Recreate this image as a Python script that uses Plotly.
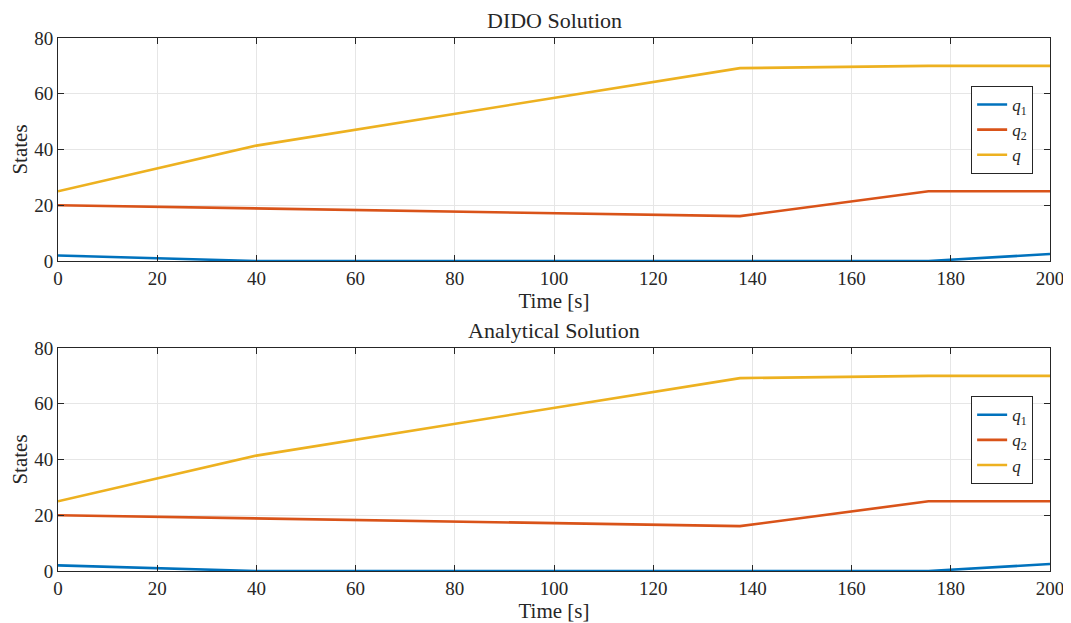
import plotly.graph_objects as go

time = [0, 40, 137.5, 175.5, 200]
q1 = [2.0, 0.0, 0.0, 0.0, 2.5]
q2 = [20.0, 18.9, 16.1, 25.0, 25.0]
q = [25.0, 41.4, 69.2, 70.0, 70.0]
x_ticks = list(range(0, 201, 20))
y_ticks = [0, 20, 40, 60, 80]
titles = ["DIDO Solution", "Analytical Solution"]

colors = ["#0072BD", "#D95319", "#EDB120"]
names = ["<i>q</i><sub>1</sub>", "<i>q</i><sub>2</sub>", "<i>q</i>"]
series = [q1, q2, q]
FONT = "Liberation Serif"

fig = go.Figure()
for p in range(2):
    for s, c, n in zip(series, colors, names):
        fig.add_trace(go.Scatter(
            x=time, y=s, mode="lines", name=n,
            line=dict(color=c, width=2.6),
            xaxis="x" if p == 0 else "x2", yaxis="y" if p == 0 else "y2",
            legend="legend" if p == 0 else "legend2",
        ))

ax_common = dict(showline=True, linecolor="#262626", linewidth=1, mirror="ticks",
                 ticks="inside", ticklen=6, tickcolor="#262626", automargin=False,
                 showgrid=True, gridcolor="#e6e6e6", gridwidth=1, zeroline=False,
                 tickfont=dict(family=FONT, size=19, color="#262626"))
axis_title_font = dict(family=FONT, size=21, color="#262626")
plot_title_font = dict(family=FONT, size=22, color="#262626")
legend_font = dict(family=FONT, size=17, color="#262626")

fig.update_layout(
    width=1063, height=615,
    margin=dict(l=50, r=21, t=30, b=52),
    paper_bgcolor="white", plot_bgcolor="white",
    font=dict(family=FONT, color="#262626"),
    xaxis=dict(domain=[0, 1], range=[0, 200], tickvals=x_ticks, anchor="y",
               title=dict(text="Time [s]", font=axis_title_font, standoff=3), **ax_common),
    yaxis=dict(domain=[0.5816, 1], range=[0, 80], tickvals=y_ticks, anchor="x",
               title=dict(text="States", font=axis_title_font, standoff=6), **ax_common),
    xaxis2=dict(domain=[0, 1], range=[0, 200], tickvals=x_ticks, anchor="y2",
                title=dict(text="Time [s]", font=axis_title_font, standoff=3), **ax_common),
    yaxis2=dict(domain=[0, 0.4184], range=[0, 80], tickvals=y_ticks, anchor="x2",
                title=dict(text="States", font=axis_title_font, standoff=6), **ax_common),
    legend=dict(x=0.983, y=0.91, xanchor="right", yanchor="top",
                bordercolor="#262626", borderwidth=1, bgcolor="white",
                font=legend_font, itemwidth=30, tracegroupgap=0),
    legend2=dict(x=0.983, y=0.328, xanchor="right", yanchor="top",
                 bordercolor="#262626", borderwidth=1, bgcolor="white",
                 font=legend_font, itemwidth=30, tracegroupgap=0),
    annotations=[
        dict(text=titles[0], x=0.5, y=1, xref="paper", yref="paper", xanchor="center",
             yanchor="bottom", yshift=3, showarrow=False, font=plot_title_font),
        dict(text=titles[1], x=0.5, y=0.4184, xref="paper", yref="paper", xanchor="center",
             yanchor="bottom", yshift=3, showarrow=False, font=plot_title_font),
    ],
)

fig.write_html("out.html")
